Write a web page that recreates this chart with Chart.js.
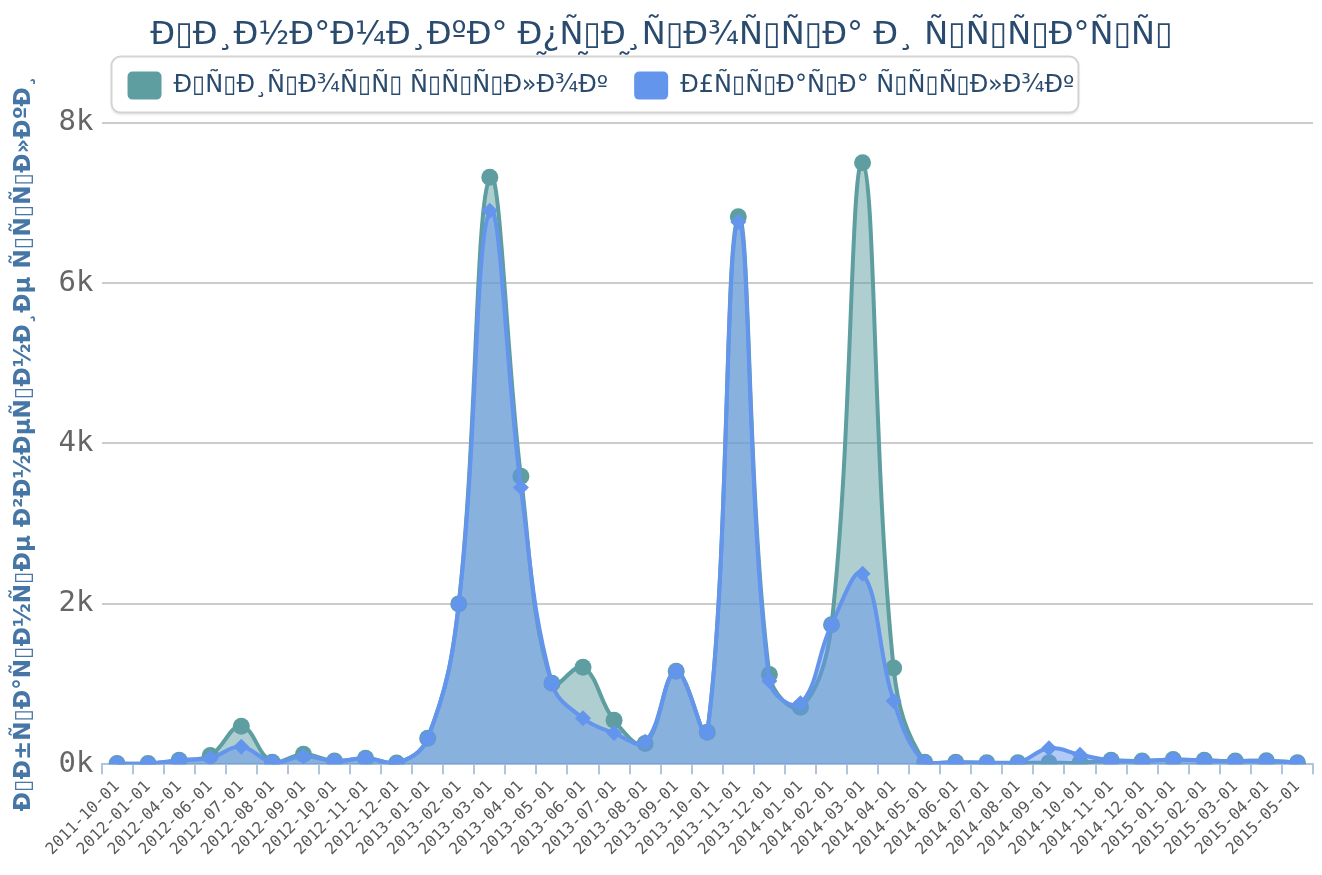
<!DOCTYPE html>
<html>
<head>
<meta charset="utf-8">
<title>links</title>
<script src="https://cdn.jsdelivr.net/npm/chart.js@4.4.1/dist/chart.umd.min.js"></script>
<style>
  html, body { margin: 0; padding: 0; background: #fff; }
</style>
</head>
<body>
<canvas id="chart" width="1322" height="875"></canvas>
<script>
// the page this came from read its utf-8 strings back as latin-1, so every label shows up garbled;
// the C1 control bytes showed as empty boxes, so they become U+25AF here
function garble(s) {
  return Array.from(new TextEncoder().encode(s),
    b => (b >= 0x80 && b <= 0x9f) ? '\u25AF' : String.fromCharCode(b)).join('');
}

const titleLines = ['Динамика прироста и утраты', 'ссылок'];
const axisTitle = 'Обратные внешние ссылки';
const seriesNames = ['Прирост ссылок', 'Утрата ссылок'];

const months = [
  '2011-10-01', '2012-01-01', '2012-04-01', '2012-06-01', '2012-07-01', '2012-08-01',
  '2012-09-01', '2012-10-01', '2012-11-01', '2012-12-01', '2013-01-01', '2013-02-01',
  '2013-03-01', '2013-04-01', '2013-05-01', '2013-06-01', '2013-07-01', '2013-08-01',
  '2013-09-01', '2013-10-01', '2013-11-01', '2013-12-01', '2014-01-01', '2014-02-01',
  '2014-03-01', '2014-04-01', '2014-05-01', '2014-06-01', '2014-07-01', '2014-08-01',
  '2014-09-01', '2014-10-01', '2014-11-01', '2014-12-01', '2015-01-01', '2015-02-01',
  '2015-03-01', '2015-04-01', '2015-05-01'
];

const gained = [
  10, 10, 50, 110, 475, 25, 125, 40, 75, 15, 325, 2000,
  7320, 3590, 1010, 1210, 550, 260, 1160, 400, 6825, 1120, 710, 1740,
  7500, 1200, 25, 25, 20, 20, 20, 20, 50, 40, 60, 50,
  40, 45, 20
];

const lost = [
  10, 10, 50, 80, 220, 25, 100, 40, 75, 15, 325, 2000,
  6900, 3450, 1010, 575, 390, 280, 1160, 400, 6760, 1040, 760, 1740,
  2375, 790, 25, 25, 20, 20, 200, 120, 50, 40, 60, 50,
  40, 45, 20
];

const yMax = 8000;
const yStep = 2000;

// white rounded frame behind the legend; it is drawn after the title so it hides the wrapped title line
const legendFrame = {
  id: 'legendFrame',
  afterInit(chart) {
    const legend = chart.legend;
    chart.boxes.splice(chart.boxes.indexOf(legend), 1);
    chart.boxes.push(legend);
    const fit = legend.fit.bind(legend);
    legend.fit = function () {
      fit();
      legend.height += 13;
    };
    const drawItems = legend.draw.bind(legend);
    legend.draw = function () {
      const boxes = legend.legendHitBoxes || [];
      if (boxes.length) {
        const left = Math.min(...boxes.map(b => b.left)) - 16;
        const right = Math.max(...boxes.map(b => b.left + b.width)) + 4;
        const top = boxes[0].top - 15;
        const bottom = boxes[0].top + boxes[0].height + 13;
        const ctx = chart.ctx;
        ctx.save();
        ctx.beginPath();
        ctx.roundRect(left, top, right - left, bottom - top, 9);
        ctx.shadowColor = 'rgba(0,0,0,0.12)';
        ctx.shadowBlur = 3;
        ctx.shadowOffsetY = 2;
        ctx.fillStyle = '#fff';
        ctx.fill();
        ctx.shadowColor = 'transparent';
        ctx.lineWidth = 2;
        ctx.strokeStyle = '#d4d4d4';
        ctx.stroke();
        ctx.restore();
      }
      drawItems();
    };
  }
};

const ctx = document.getElementById('chart').getContext('2d');
new Chart(ctx, {
  type: 'line',
  data: {
    labels: months,
    datasets: [
      {
        label: garble(seriesNames[0]),
        data: gained,
        order: 1,
        borderColor: '#5f9ea0',
        backgroundColor: 'rgba(95,158,160,0.5)',
        borderWidth: 4,
        fill: 'origin',
        tension: 0.4,
        pointRadius: 8.5,
        pointBorderWidth: 0,
        pointBackgroundColor: '#5f9ea0',
        pointStyle: 'circle'
      },
      {
        label: garble(seriesNames[1]),
        data: lost,
        order: 0,
        borderColor: '#6495ed',
        backgroundColor: 'rgba(100,149,237,0.5)',
        borderWidth: 4,
        fill: 'origin',
        tension: 0.4,
        pointBorderWidth: 0,
        pointBackgroundColor: '#6495ed',
        pointStyle: c => lost[c.dataIndex] === gained[c.dataIndex] ? 'circle' : 'rectRot',
        pointRadius: c => lost[c.dataIndex] === gained[c.dataIndex] ? 7.5 : 8
      }
    ]
  },
  options: {
    responsive: false,
    animation: false,
    events: [],
    layout: { padding: { left: 10, right: 9, top: 0, bottom: 13 } },
    plugins: {
      title: {
        display: true,
        text: titleLines.map(garble),
        color: '#2a4b6e',
        font: { family: 'DejaVu Sans', size: 32, weight: 'normal', lineHeight: 1.15 },
        padding: { top: 17, bottom: -45 }
      },
      legend: {
        position: 'top',
        fullSize: false,
        align: 'start',
        labels: {
          color: '#2a4b6e',
          font: { family: 'DejaVu Sans', size: 24 },
          boxWidth: 34,
          boxHeight: 28,
          useBorderRadius: true,
          borderRadius: 5,
          padding: 26,
          sort: (a, b) => a.datasetIndex - b.datasetIndex,
          generateLabels: chart => chart.data.datasets.map((ds, i) => ({
            text: ds.label,
            fillStyle: ds.borderColor,
            strokeStyle: ds.borderColor,
            lineWidth: 0,
            fontColor: '#2a4b6e',
            hidden: false,
            borderRadius: 5,
            datasetIndex: i
          }))
        }
      },
      tooltip: { enabled: false }
    },
    scales: {
      x: {
        offset: true,
        grid: {
          offset: true,
          drawOnChartArea: false,
          color: '#b0c4de',
          lineWidth: 2,
          tickLength: 10
        },
        border: { color: '#b0c4de', width: 2 },
        ticks: {
          autoSkip: false,
          minRotation: 45,
          maxRotation: 45,
          color: '#5a5a5a',
          font: { family: 'DejaVu Sans Mono', size: 16 }
        }
      },
      y: {
        min: 0,
        max: yMax,
        border: { display: false },
        grid: { color: '#cccccc', lineWidth: 2, drawTicks: false },
        ticks: {
          stepSize: yStep,
          padding: 8,
          color: '#666666',
          font: { family: 'DejaVu Sans Mono', size: 29 },
          callback: v => (v / 1000) + 'k'
        },
        title: {
          display: true,
          text: garble(axisTitle),
          color: '#4676a6',
          font: { family: 'DejaVu Sans', size: 23, weight: 'bold' },
          padding: { top: 0, bottom: 13 }
        }
      }
    }
  },
  plugins: [legendFrame]
});
</script>
</body>
</html>
